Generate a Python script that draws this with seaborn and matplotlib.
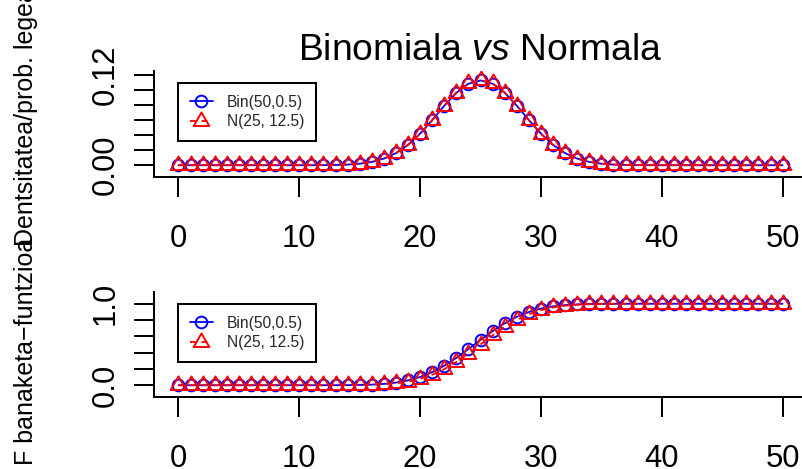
import matplotlib
matplotlib.use("Agg")
import matplotlib.pyplot as plt
from matplotlib.path import Path
import seaborn as sns

# x values (number of successes) shared by both panels
x_vals = list(range(51))

# Bin(50, 0.5) probability mass function
binom_pmf = [
    0.0, 0.0, 0.0, 0.0, 0.0, 0.0, 0.0, 0.0, 0.0,
    0.000002, 0.000009, 0.000033, 0.000108, 0.000315, 0.000833, 0.001999,
    0.004373, 0.008746, 0.016035, 0.027006, 0.041859, 0.059799, 0.078826,
    0.095962, 0.107957, 0.112275, 0.107957, 0.095962, 0.078826, 0.059799,
    0.041859, 0.027006, 0.016035, 0.008746, 0.004373, 0.001999, 0.000833,
    0.000315, 0.000108, 0.000033, 0.000009, 0.000002,
    0.0, 0.0, 0.0, 0.0, 0.0, 0.0, 0.0, 0.0, 0.0,
]

# N(25, 12.5) density
norm_pdf = [
    0.0, 0.0, 0.0, 0.0, 0.0, 0.0, 0.0, 0.0,
    0.000001, 0.000004, 0.000014, 0.000044, 0.000131, 0.000356, 0.000892,
    0.002067, 0.004419, 0.008723, 0.015894, 0.026735, 0.041511, 0.059499,
    0.078725, 0.096154, 0.108413, 0.112838, 0.108413, 0.096154, 0.078725,
    0.059499, 0.041511, 0.026735, 0.015894, 0.008723, 0.004419, 0.002067,
    0.000892, 0.000356, 0.000131, 0.000044, 0.000014, 0.000004, 0.000001,
    0.0, 0.0, 0.0, 0.0, 0.0, 0.0, 0.0, 0.0,
]

# Bin(50, 0.5) distribution function
binom_cdf = [
    0.0, 0.0, 0.0, 0.0, 0.0, 0.0, 0.0, 0.0, 0.0,
    0.000003, 0.000012, 0.000044, 0.000152, 0.000467, 0.001300, 0.003299,
    0.007672, 0.016418, 0.032453, 0.059459, 0.101319, 0.161118, 0.239944,
    0.335906, 0.443862, 0.556138, 0.664094, 0.760056, 0.838882, 0.898681,
    0.940541, 0.967547, 0.983582, 0.992328, 0.996701, 0.998700, 0.999533,
    0.999848, 0.999956, 0.999988, 0.999997,
    1.0, 1.0, 1.0, 1.0, 1.0, 1.0, 1.0, 1.0, 1.0, 1.0,
]

# N(25, 12.5) distribution function
norm_cdf = [
    0.0, 0.0, 0.0, 0.0, 0.0, 0.0, 0.0, 0.0, 0.0,
    0.000003, 0.000011, 0.000037, 0.000118, 0.000344, 0.000932, 0.002339,
    0.005455, 0.011830, 0.023857, 0.044850, 0.078650, 0.128950, 0.198070,
    0.285810, 0.388650, 0.500000, 0.611350, 0.714190, 0.801930, 0.871050,
    0.921350, 0.955150, 0.976140, 0.988170, 0.994540, 0.997660, 0.999070,
    0.999660, 0.999880, 0.999960, 0.999990, 0.999997,
    1.0, 1.0, 1.0, 1.0, 1.0, 1.0, 1.0, 1.0, 1.0,
]

series_labels = ["Bin(50,0.5)", "N(25, 12.5)"]
x_ticks = [0, 10, 20, 30, 40, 50]
x_tick_labels = ["0", "10", "20", "30", "40", "50"]
top_y_ticks = [0.00, 0.02, 0.04, 0.06, 0.08, 0.10, 0.12]
top_y_tick_labels = ["0.00", "", "", "", "", "", "0.12"]
bottom_y_ticks = [0.0, 0.2, 0.4, 0.6, 0.8, 1.0]
bottom_y_tick_labels = ["0.0", "", "", "", "", "1.0"]
ylabel_cdf = "F banaketa\u2212funtzioa"
ylabel_pdf = "Dentsitatea/prob. legea"

sns.set_style("white")
plt.rcParams["font.family"] = ["Liberation Sans", "DejaVu Sans"]
plt.rcParams["mathtext.fontset"] = "custom"
plt.rcParams["mathtext.rm"] = "Liberation Sans"
plt.rcParams["mathtext.it"] = "Liberation Sans:italic"

BLUE = "#0000FF"
RED = "#FF0000"
LW = 1.3
MEW = 1.4
AXLW = 1.44

# R-style open triangle (pch = 2), centred like the circle symbol
TRIANGLE = Path(
    [(0.0, 1.555), (1.347, -0.778), (-1.347, -0.778), (0.0, 1.555)],
    [Path.MOVETO, Path.LINETO, Path.LINETO, Path.CLOSEPOLY],
)

W, H = 802, 469
fig = plt.figure(figsize=(W / 100, H / 100), dpi=100)
fig.patch.set_facecolor("white")


def px_axes(left, top, right, bottom):
    return fig.add_axes([left / W, 1 - bottom / H, (right - left) / W, (bottom - top) / H])


def draw_panel(ax, y_binom, y_norm, ylim, yticks, ytick_labels, legend_xy):
    sns.lineplot(x=x_vals, y=y_binom, ax=ax, color=BLUE, linewidth=LW,
                 marker="o", markersize=8.4, markerfacecolor="none",
                 markeredgecolor=BLUE, markeredgewidth=MEW,
                 label=series_labels[0], legend=False, errorbar=None)
    sns.lineplot(x=x_vals, y=y_norm, ax=ax, color=RED, linewidth=LW,
                 linestyle=(0, (3.2, 3.2)),
                 marker=TRIANGLE, markersize=13, markerfacecolor="none",
                 markeredgecolor=RED, markeredgewidth=MEW,
                 label=series_labels[1], legend=False, errorbar=None)
    ax.set_xlim(-2, 52)
    ax.set_ylim(*ylim)
    ax.set_xlabel("")
    ax.set_ylabel("")
    ax.set_facecolor("white")
    for side in ("top", "right"):
        ax.spines[side].set_visible(False)
    for side in ("left", "bottom"):
        ax.spines[side].set_color("black")
        ax.spines[side].set_linewidth(AXLW)
    ax.set_xticks(x_ticks)
    ax.set_xticklabels(x_tick_labels)
    ax.set_yticks(yticks)
    ax.set_yticklabels(ytick_labels, rotation=90, va="center")
    ax.tick_params(axis="both", direction="out", length=14.4, width=AXLW,
                   color="black", labelcolor="black", labelsize=22.3)
    ax.tick_params(axis="x", pad=19.5)
    ax.tick_params(axis="y", pad=10)
    ax.tick_params(left=True, bottom=True)
    handles, labels = ax.get_legend_handles_labels()
    leg = ax.legend(handles, labels, loc="upper left",
                    bbox_to_anchor=(legend_xy[0] / W, 1 - legend_xy[1] / H),
                    bbox_transform=fig.transFigure, borderaxespad=0,
                    fontsize=11.2, frameon=True, fancybox=False, shadow=False,
                    framealpha=1, edgecolor="black", borderpad=0.76,
                    labelspacing=0.29, handlelength=1.5, handletextpad=0.9)
    leg.get_frame().set_linewidth(AXLW)


ax_top = px_axes(154.3, 70.7, 806.8, 176.7)
draw_panel(ax_top, binom_pmf, norm_pdf, (-0.0152, 0.1252),
           top_y_ticks, top_y_tick_labels, (178, 83))

ax_bot = px_axes(154.3, 291.7, 806.8, 397.3)
draw_panel(ax_bot, binom_cdf, norm_cdf, (-0.148, 1.148),
           bottom_y_ticks, bottom_y_tick_labels, (178, 304))

fig.text(480.5 / W, 1 - 60 / H, r"Binomiala $\mathit{vs}$ Normala",
         ha="center", va="baseline", fontsize=26.8, color="black")

fig.text(33 / W, 0.25, ylabel_cdf, rotation=90, rotation_mode="anchor",
         ha="center", va="baseline", fontsize=18, color="black")
fig.text(33 / W, 0.75, ylabel_pdf, rotation=90, rotation_mode="anchor",
         ha="center", va="baseline", fontsize=18, color="black")

fig.savefig("out.png", dpi=100, facecolor="white")
